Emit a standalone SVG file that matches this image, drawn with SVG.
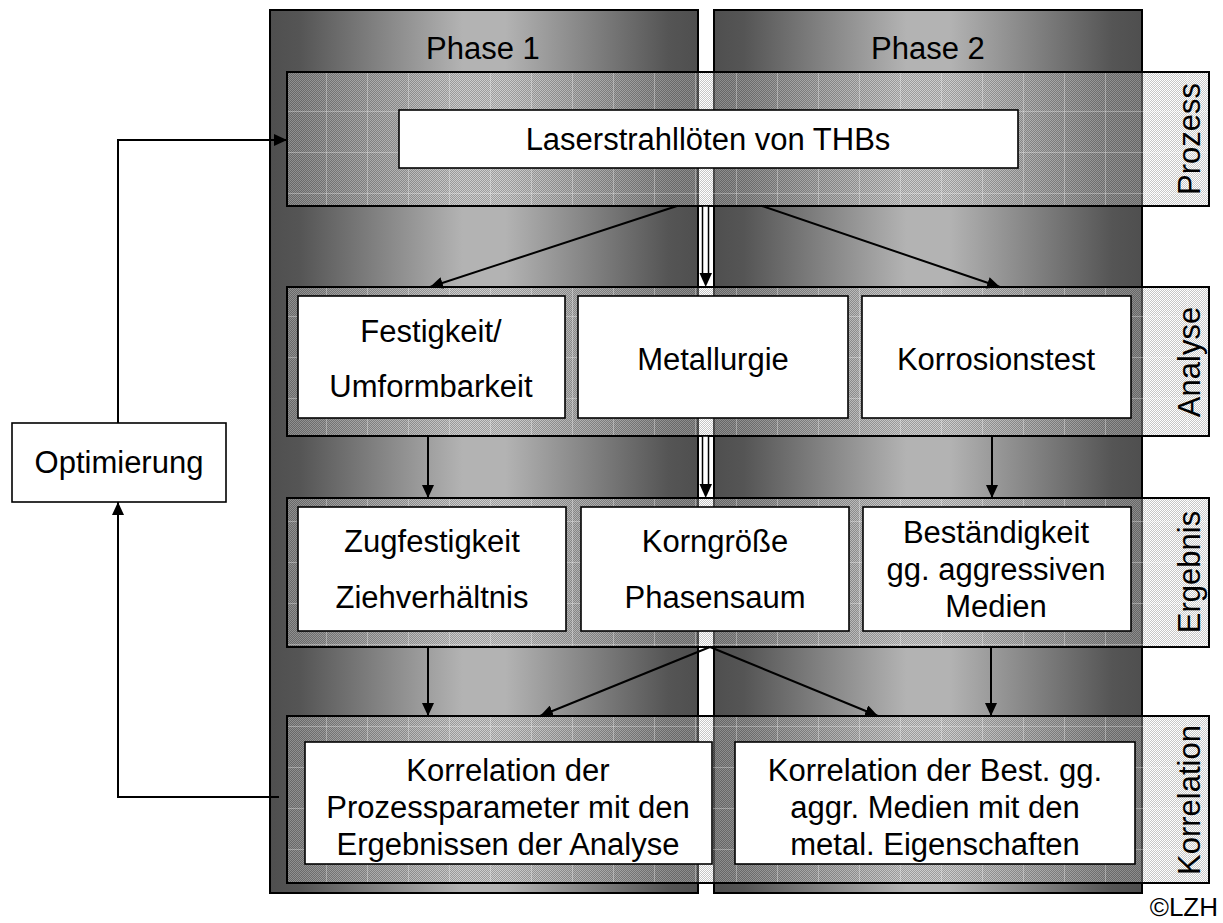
<svg xmlns="http://www.w3.org/2000/svg" width="1223" height="923" viewBox="0 0 1223 923">
<style>
text{font-family:"Liberation Sans",Arial,sans-serif;font-size:31px;fill:#000;text-anchor:middle}
.col{fill:url(#colGrad);stroke:#000;stroke-width:2}
.band{fill:url(#checker);stroke:none}
.bandGrid{fill:url(#grid);stroke:#000;stroke-width:2}
.box{fill:#fff;stroke:#000;stroke-width:1.6}
.con{fill:none;stroke:#000;stroke-width:2}
.lbl{text-anchor:middle}
</style>
<defs>
<linearGradient id="colGrad" x1="0" y1="0" x2="1" y2="0">
<stop offset="0" stop-color="#4f4f4f"/>
<stop offset="0.07" stop-color="#555"/>
<stop offset="0.45" stop-color="#b3b3b3"/>
<stop offset="0.55" stop-color="#b3b3b3"/>
<stop offset="0.93" stop-color="#555"/>
<stop offset="1" stop-color="#4f4f4f"/>
</linearGradient>
<pattern id="checker" patternUnits="userSpaceOnUse" width="2" height="2">
<rect x="0" y="0" width="1" height="1" fill="#fff" fill-opacity="0.35"/>
<rect x="1" y="1" width="1" height="1" fill="#fff" fill-opacity="0.35"/>
<rect x="1" y="0" width="1" height="1" fill="#808080" fill-opacity="0.45"/>
<rect x="0" y="1" width="1" height="1" fill="#808080" fill-opacity="0.45"/>
</pattern>
<pattern id="grid" patternUnits="userSpaceOnUse" x="285" y="70" width="41" height="41">
<path d="M0.5 0V41M0 0.5H41" stroke="#fff" stroke-opacity="0.3" stroke-width="1" fill="none"/>
</pattern>
<marker id="arr" markerUnits="userSpaceOnUse" markerWidth="14" markerHeight="12" refX="13" refY="6" orient="auto">
<path d="M0,0 L13,6 L0,12 z" fill="#000"/>
</marker>
</defs>
<rect width="1223" height="923" fill="#fff"/>

<g id="phase1">
<rect class="col" x="270" y="10" width="428" height="883"/>
<text x="483" y="59">Phase 1</text>
</g>
<g id="phase2">
<rect class="col" x="714" y="10" width="428" height="883"/>
<text x="928" y="59">Phase 2</text>
</g>

<g id="band-prozess">
<rect class="band" x="287" y="72" width="922" height="134"/>
<rect class="bandGrid" x="287" y="72" width="922" height="134"/>
<text transform="translate(1200,139) rotate(-90)">Prozess</text>
</g>
<g id="band-analyse">
<rect class="band" x="287" y="287" width="922" height="149"/>
<rect class="bandGrid" x="287" y="287" width="922" height="149"/>
<text transform="translate(1200,362) rotate(-90)">Analyse</text>
</g>
<g id="band-ergebnis">
<rect class="band" x="287" y="498" width="922" height="149"/>
<rect class="bandGrid" x="287" y="498" width="922" height="149"/>
<text transform="translate(1200,572) rotate(-90)">Ergebnis</text>
</g>
<g id="band-korrelation">
<rect class="band" x="287" y="716" width="922" height="167"/>
<rect class="bandGrid" x="287" y="716" width="922" height="167"/>
<text transform="translate(1200,800) rotate(-90)">Korrelation</text>
</g>

<g id="connectors">
<line class="con" x1="677" y1="206" x2="430" y2="287" marker-end="url(#arr)"/>
<line class="con" x1="762" y1="206" x2="1000" y2="287" marker-end="url(#arr)"/>
<line class="con" x1="428" y1="436" x2="428" y2="498" marker-end="url(#arr)"/>
<line class="con" x1="992" y1="436" x2="992" y2="498" stroke-width="1.5" marker-end="url(#arr)"/>
<line class="con" x1="428" y1="647" x2="428" y2="716" marker-end="url(#arr)"/>
<line class="con" x1="710" y1="647" x2="540" y2="716" marker-end="url(#arr)"/>
<line class="con" x1="710" y1="647" x2="878" y2="716" marker-end="url(#arr)"/>
<line class="con" x1="991" y1="647" x2="991" y2="716" marker-end="url(#arr)"/>
<rect x="702.5" y="206" width="6" height="68" fill="#fff" stroke="#000" stroke-width="1.5"/>
<path d="M699.5,273 L712,273 L705.7,287 z" fill="#000"/>
<rect x="702.5" y="436" width="6" height="49" fill="#fff" stroke="#000" stroke-width="1.5"/>
<path d="M699.5,484 L712,484 L705.7,498 z" fill="#000"/>
<path class="con" d="M118,423 V140 H287" marker-end="url(#arr)"/>
<path class="con" d="M279,797 H118 V502" marker-end="url(#arr)"/>
</g>

<g id="laser">
<rect class="box" x="399" y="110" width="619" height="58"/>
<text x="708" y="150">Laserstrahllöten von THBs</text>
</g>
<g id="festigkeit">
<rect class="box" x="298" y="296" width="267" height="122"/>
<text x="431" y="342">Festigkeit/</text>
<text x="431" y="397">Umformbarkeit</text>
</g>
<g id="metallurgie">
<rect class="box" x="578" y="296" width="270" height="122"/>
<text x="713" y="370">Metallurgie</text>
</g>
<g id="korrosion">
<rect class="box" x="862" y="296" width="269" height="122"/>
<text x="996" y="370">Korrosionstest</text>
</g>
<g id="zugfestigkeit">
<rect class="box" x="298" y="507" width="268" height="124"/>
<text x="432" y="552">Zugfestigkeit</text>
<text x="432" y="608">Ziehverhältnis</text>
</g>
<g id="korngroesse">
<rect class="box" x="581" y="507" width="268" height="124"/>
<text x="715" y="552">Korngröße</text>
<text x="715" y="608">Phasensaum</text>
</g>
<g id="bestaendigkeit">
<rect class="box" x="863" y="507" width="268" height="124"/>
<text x="996" y="543">Beständigkeit</text>
<text x="996" y="580">gg. aggressiven</text>
<text x="996" y="617">Medien</text>
</g>
<g id="korrelation1">
<rect class="box" x="305" y="742" width="407" height="122"/>
<text x="508" y="781">Korrelation der</text>
<text x="508" y="818">Prozessparameter mit den</text>
<text x="508" y="855">Ergebnissen der Analyse</text>
</g>
<g id="korrelation2">
<rect class="box" x="735" y="742" width="400" height="122"/>
<text x="935" y="781">Korrelation der Best. gg.</text>
<text x="935" y="818">aggr. Medien mit den</text>
<text x="935" y="855">metal. Eigenschaften</text>
</g>
<g id="optimierung">
<rect class="box" x="12" y="423" width="214" height="79"/>
<text x="119" y="473">Optimierung</text>
</g>
<text x="1218" y="916" style="font-size:26px;text-anchor:end">©LZH</text>
</svg>
